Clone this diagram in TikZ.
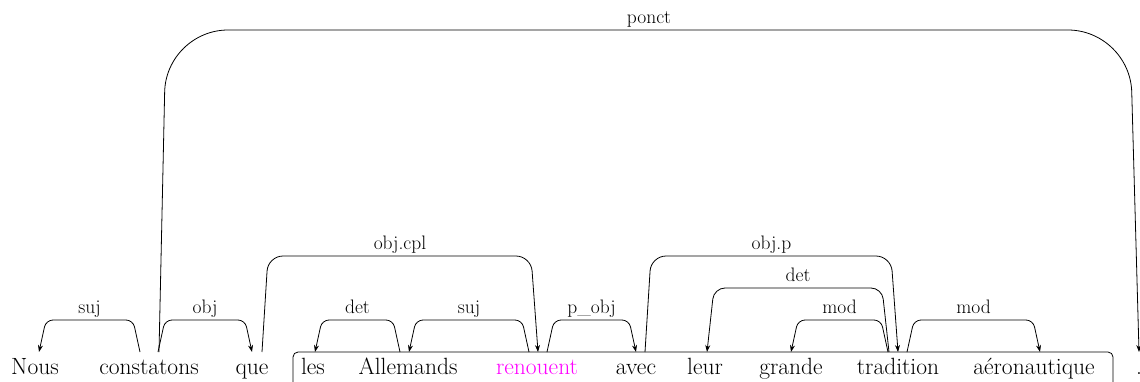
\documentclass[tikz,border=0pt]{standalone}
\usepackage{fontspec}
\usetikzlibrary{arrows.meta}
\definecolor{headcol}{RGB}{255,0,255}
\begin{document}
\begin{tikzpicture}[x=1pt,y=-1pt,
  word/.style={anchor=base,inner sep=0pt,font=\fontsize{23.5}{28}\selectfont},
  lab/.style={anchor=base,inner sep=0pt,font=\fontsize{19.5}{22}\selectfont},
  dep/.style={line width=0.8pt,-{Stealth[length=7pt,width=5pt]}},
  chunk/.style={line width=0.8pt,rounded corners=5pt}]
\useasboundingbox (0,0) rectangle (1140,381);
\clip (0,0) rectangle (1140,381);
% words
\node[word] (nous) at (35,374) {Nous};
\node[word] (constatons) at (149,374) {constatons};
\node[word] (que) at (252,374) {que};
\node[word] (les) at (313,374) {les};
\node[word] (allemands) at (408,374) {Allemands};
\node[word,text=headcol] (renouent) at (537,374) {renouent};
\node[word] (avec) at (636,374) {avec};
\node[word] (leur) at (705,374) {leur};
\node[word] (grande) at (791,374) {grande};
\node[word] (tradition) at (898,374) {tradition};
\node[word] (aero) at (1034,374) {aéronautique};
\node[word] (point) at (1139,374) {.};
% chunk box
\draw[chunk] (293,400) rectangle (1113,352);
% attachment points
\coordinate (nous-in) at (39,352);
\coordinate (cons-o1) at (140,352);
\coordinate (cons-o2) at (158,352);
\coordinate (cons-o3) at (159,352);
\coordinate (que-in) at (252,352);
\coordinate (que-o) at (262,352);
\coordinate (les-in) at (315,352);
\coordinate (all-o) at (400,352);
\coordinate (all-in) at (409,352);
\coordinate (ren-o1) at (529,352);
\coordinate (ren-in) at (538,352);
\coordinate (ren-o2) at (547,352);
\coordinate (avec-in) at (636,352);
\coordinate (avec-o) at (645,352);
\coordinate (leur-in) at (707,352);
\coordinate (grande-in) at (791,352);
\coordinate (trad-o1) at (888,352);
\coordinate (trad-o2) at (889,352);
\coordinate (trad-in) at (898,352);
\coordinate (trad-o3) at (907,352);
\coordinate (aero-in) at (1040,352);
\coordinate (point-in) at (1139,352);
% edges
\draw[dep,rounded corners=7pt] (cons-o1) -- (133,320) -- (46,320) -- (nous-in);
\node[lab] (l-suj1) at (89.5,313) {suj};
\draw[dep,rounded corners=7pt] (cons-o2) -- (165,320) -- (245,320) -- (que-in);
\node[lab] (l-obj) at (205,313) {obj};
\draw[dep,rounded corners=62pt] (cons-o3) -- (166,30) -- (1130,30) -- (point-in);
\node[lab] (l-ponct) at (649,23) {ponct};
\draw[dep,rounded corners=15pt] (que-o) -- (268,256) -- (531,256) -- (ren-in);
\node[lab] (l-objcpl) at (400,249) {obj.cpl};
\draw[dep,rounded corners=7pt] (all-o) -- (393,320) -- (322,320) -- (les-in);
\node[lab] (l-det1) at (357.5,313) {det};
\draw[dep,rounded corners=7pt] (ren-o1) -- (522,320) -- (416,320) -- (all-in);
\node[lab] (l-suj2) at (469,313) {suj};
\draw[dep,rounded corners=7pt] (ren-o2) -- (554,320) -- (629,320) -- (avec-in);
\node[lab] (l-pobj) at (591.5,313) {p\_obj};
\draw[dep,rounded corners=15pt] (avec-o) -- (651,256) -- (891,256) -- (trad-in);
\node[lab] (l-objp) at (771.5,249) {obj.p};
\draw[dep,rounded corners=11pt] (trad-o2) -- (882,288) -- (714,288) -- (leur-in);
\node[lab] (l-det2) at (798,281) {det};
\draw[dep,rounded corners=7pt] (trad-o1) -- (881,320) -- (798,320) -- (grande-in);
\node[lab] (l-mod1) at (839.5,313) {mod};
\draw[dep,rounded corners=7pt] (trad-o3) -- (914,320) -- (1033,320) -- (aero-in);
\node[lab] (l-mod2) at (973.5,313) {mod};
\end{tikzpicture}
\end{document}
